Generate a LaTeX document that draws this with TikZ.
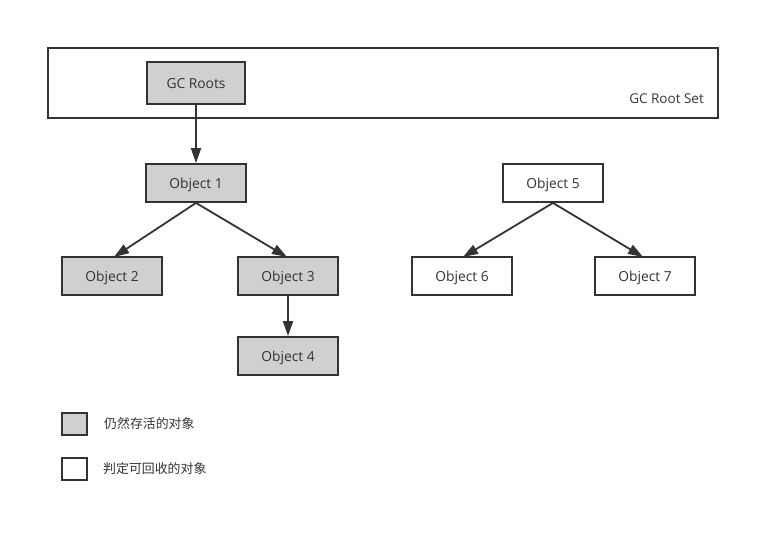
\documentclass[tikz,border=0pt]{standalone}
\usepackage{fontspec}
\setmainfont{Open Sans}
\newfontfamily\cjk{Noto Sans CJK SC}
\usetikzlibrary{arrows.meta}
\definecolor{ln}{HTML}{333333}
\definecolor{gr}{HTML}{D0D0D0}
\begin{document}
\begin{tikzpicture}[x=1pt,y=-1pt,
  obj/.style={draw=ln,line width=1.8pt,minimum width=100pt,minimum height=38pt,inner sep=0pt,text height=10pt,text depth=0pt,font=\fontsize{13.8}{15}\selectfont,text=ln},
  live/.style={obj,fill=gr},
  dead/.style={obj,fill=white},
  conn/.style={draw=ln,line width=1.8pt,-{Triangle[length=15pt,width=10pt]}},
  leg/.style={draw=ln,line width=1.8pt,minimum width=25pt,minimum height=22pt,inner sep=0pt},
  legtxt/.style={anchor=west,font=\cjk\fontsize{12.9}{14}\selectfont,text=ln,inner sep=0pt}]
\useasboundingbox (0,0) rectangle (780,547);
\node[draw=ln,line width=1.8pt,minimum width=670pt,minimum height=70pt,inner sep=0pt] (set) at (383,83) {};
\node[anchor=east,font=\fontsize{13.5}{15}\selectfont,text=ln,inner sep=0pt,text height=10pt,text depth=0pt] (setlbl) at (704,98) {GC Root Set};
\node[live,minimum width=98pt,minimum height=42pt] (roots) at (196,83) {GC Roots};
\node[live] (o1) at (196,183) {Object 1};
\node[live] (o2) at (112,276) {Object 2};
\node[live] (o3) at (288,276) {Object 3};
\node[live] (o4) at (288,356) {Object 4};
\node[dead] (o5) at (553,183) {Object 5};
\node[dead] (o6) at (462,276) {Object 6};
\node[dead] (o7) at (645,276) {Object 7};
\draw[conn] (roots.south) -- (o1.north);
\draw[conn] (o1.south) -- (114,257);
\draw[conn] (o1.south) -- (287,257);
\draw[conn] (o3.south) -- (o4.north);
\draw[conn] (o5.south) -- (463,257);
\draw[conn] (o5.south) -- (643,257);
\node[leg,fill=gr] (l1) at (74.5,424) {};
\node[leg,fill=white] (l2) at (74.5,469) {};
\node[legtxt] (t1) at (104,424) {仍然存活的对象};
\node[legtxt] (t2) at (103,469) {判定可回收的对象};
\end{tikzpicture}
\end{document}
